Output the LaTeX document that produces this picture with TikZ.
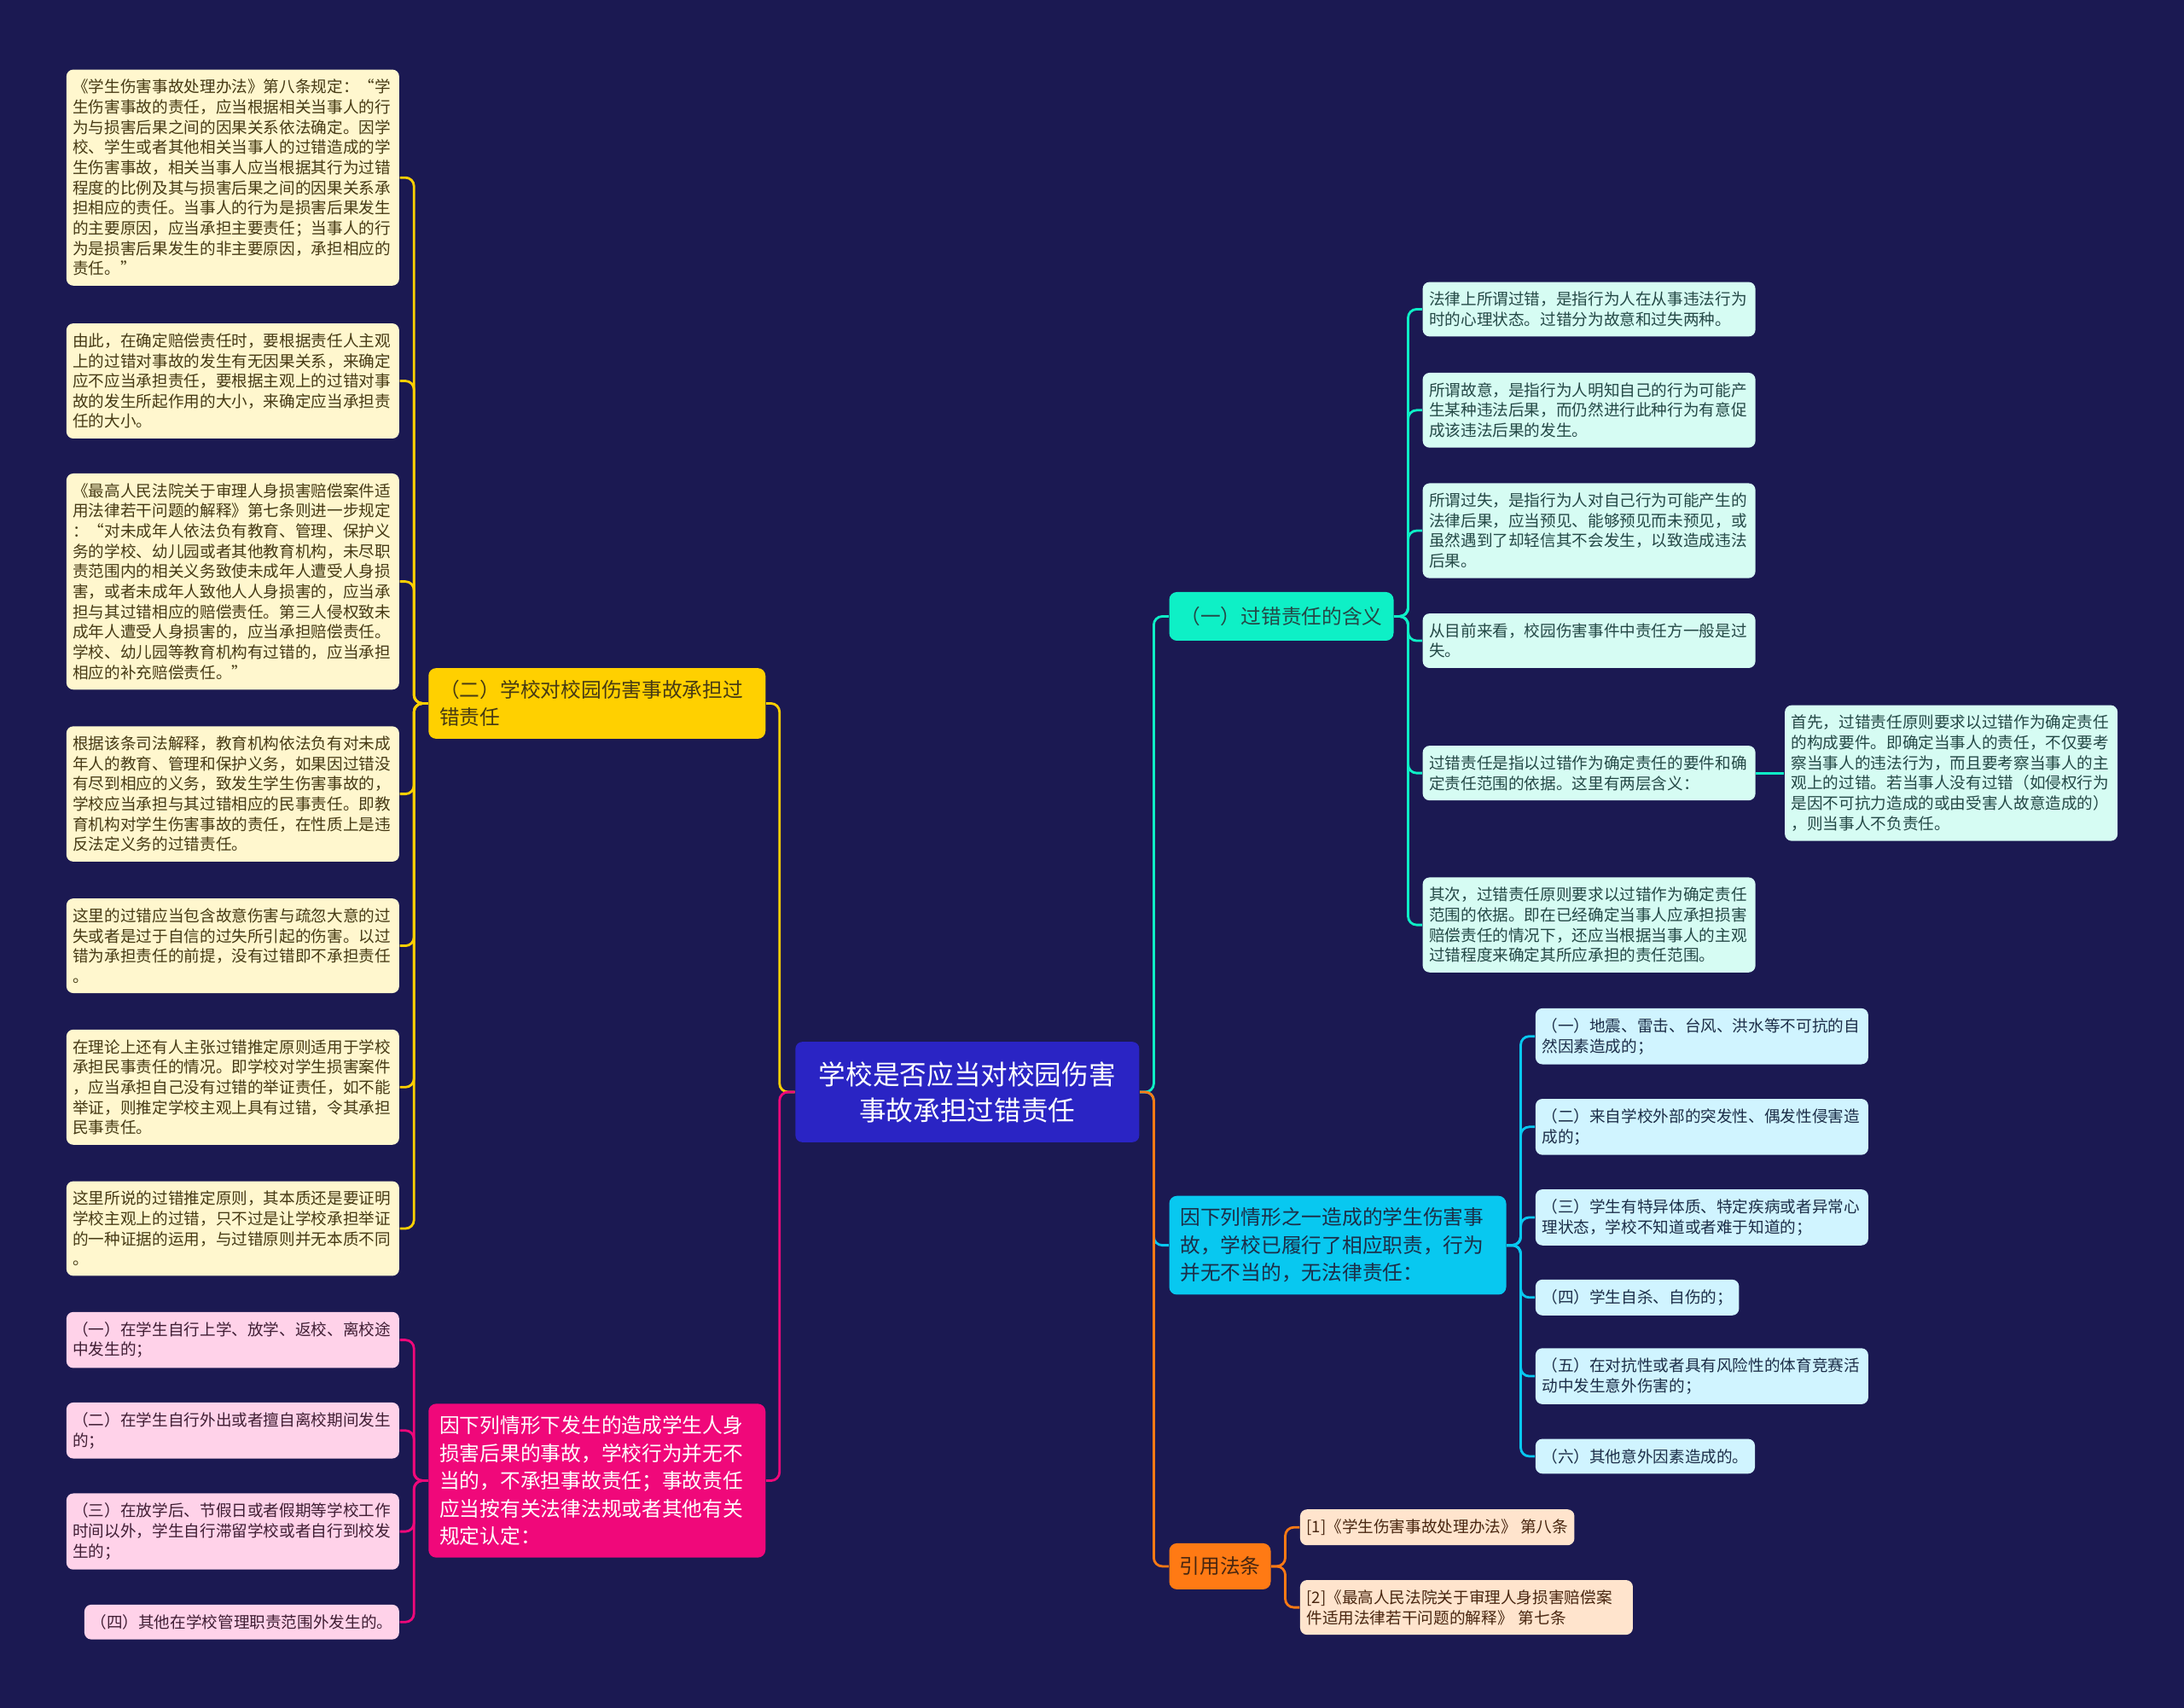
\documentclass[tikz,border=0pt]{standalone}
\usepackage{fontspec}
\newfontfamily\cjk{Noto Sans CJK SC}

\definecolor{fondo}{RGB}{27,25,82}
\definecolor{raizc}{RGB}{42,36,196}
\definecolor{verde}{RGB}{14,240,198}
\definecolor{verdeclaro}{RGB}{214,252,243}
\definecolor{verdetexto}{RGB}{36,72,70}
\definecolor{amarillo}{RGB}{255,208,0}
\definecolor{amarilloclaro}{RGB}{255,247,206}
\definecolor{amarillotexto}{RGB}{70,58,20}
\definecolor{rosa}{RGB}{240,8,122}
\definecolor{rosaclaro}{RGB}{255,210,233}
\definecolor{rosatexto}{RGB}{64,30,52}
\definecolor{azul}{RGB}{8,200,240}
\definecolor{azulclaro}{RGB}{208,244,255}
\definecolor{azultexto}{RGB}{28,46,72}
\definecolor{naranja}{RGB}{255,122,20}
\definecolor{naranjaclaro}{RGB}{255,228,205}
\definecolor{naranjatexto}{RGB}{72,38,16}

\begin{document}
\begin{tikzpicture}[
            x=0.16327mm, y=-0.16327mm,
            hoja/.style  ={rounded corners=0.8mm, inner xsep=0.75mm, inner ysep=1.15mm, align=left,
                           font=\cjk\fontsize{5.3pt}{6.73pt}\selectfont},
            ancha/.style ={hoja, text width=37.5mm},
            rama/.style  ={rounded corners=0.9mm, inner xsep=1.3mm, inner ysep=1.4mm, align=left,
                           text width=36.9mm, font=\cjk\fontsize{6.75pt}{9.26pt}\selectfont},
            corta/.style ={rounded corners=0.9mm, inner sep=0pt, align=center,
                           font=\cjk\fontsize{6.75pt}{9.26pt}\selectfont},
            lin/.style   ={line width=0.8pt, rounded corners=1mm},
            cverde/.style={fill=verdeclaro, text=verdetexto},
            camar/.style ={fill=amarilloclaro, text=amarillotexto},
            crosa/.style ={fill=rosaclaro, text=rosatexto},
            cazul/.style ={fill=azulclaro, text=azultexto},
            cnar/.style  ={fill=naranjaclaro, text=naranjatexto}
        ]
            %-----------------  Fondo  --------------------
            \fill[fondo] (0,0) rectangle (1568,1226);
            \useasboundingbox (0,0) rectangle (1568,1226);

            %-----------------  Nodo central  --------------------
            \node[fill=raizc, text=white, rounded corners=0.8mm, align=center,
                  minimum width=40.3mm, minimum height=11.76mm,
                  font=\cjk\fontsize{9pt}{12pt}\selectfont] (raiz) at (694.5,784)
                 {学校是否应当对校园伤害\\事故承担过错责任};

            %-----------------  Ramas  --------------------
            \node[corta, fill=verde, text=verdetexto, minimum width=26.3mm, minimum height=5.7mm,
                  anchor=west] (sig) at (839,442.5) {（一）过错责任的含义};
            \node[rama, fill=amarillo, text=amarillotexto, anchor=east] (esc) at (550,505)
                 {（二）学校对校园伤害事故承担过\\错责任};
            \node[rama, fill=rosa, text=white, anchor=east] (exc) at (550,1063)
                 {因下列情形下发生的造成学生人身\\损害后果的事故，学校行为并无不\\当的，不承担事故责任；事故责任\\应当按有关法律法规或者其他有关\\规定认定：};
            \node[rama, fill=azul, text=azultexto, anchor=west] (exo) at (839,894)
                 {因下列情形之一造成的学生伤害事\\故，学校已履行了相应职责，行为\\并无不当的，无法律责任：};
            \node[corta, fill=naranja, text=naranjatexto, minimum width=11.9mm, minimum height=5.4mm,
                  anchor=west] (ley) at (839,1124.5) {引用法条};

            %-----------------  Hojas: (一) significado  --------------------
            \node[ancha, cverde, anchor=west] (sig1) at (1021,222)
                 {法律上所谓过错，是指行为人在从事违法行为\\时的心理状态。过错分为故意和过失两种。};
            \node[ancha, cverde, anchor=west] (sig2) at (1021,294.5)
                 {所谓故意，是指行为人明知自己的行为可能产\\生某种违法后果，而仍然进行此种行为有意促\\成该违法后果的发生。};
            \node[ancha, cverde, anchor=west] (sig3) at (1021,381)
                 {所谓过失，是指行为人对自己行为可能产生的\\法律后果，应当预见、能够预见而未预见，或\\虽然遇到了却轻信其不会发生，以致造成违法\\后果。};
            \node[ancha, cverde, anchor=west] (sig4) at (1021,460)
                 {从目前来看，校园伤害事件中责任方一般是过\\失。};
            \node[ancha, cverde, anchor=west] (sig5) at (1021,555)
                 {过错责任是指以过错作为确定责任的要件和确\\定责任范围的依据。这里有两层含义：};
            \node[ancha, cverde, anchor=west] (sig5a) at (1281,555)
                 {首先，过错责任原则要求以过错作为确定责任\\的构成要件。即确定当事人的责任，不仅要考\\察当事人的违法行为，而且要考察当事人的主\\观上的过错。若当事人没有过错（如侵权行为\\是因不可抗力造成的或由受害人故意造成的）\\，则当事人不负责任。};
            \node[ancha, cverde, anchor=west] (sig6) at (1021,664)
                 {其次，过错责任原则要求以过错作为确定责任\\范围的依据。即在已经确定当事人应承担损害\\赔偿责任的情况下，还应当根据当事人的主观\\过错程度来确定其所应承担的责任范围。};

            %-----------------  Hojas: (二) escuela  --------------------
            \node[ancha, camar, anchor=east] (esc1) at (287,127.5)
                 {《学生伤害事故处理办法》第八条规定：“学\\生伤害事故的责任，应当根据相关当事人的行\\为与损害后果之间的因果关系依法确定。因学\\校、学生或者其他相关当事人的过错造成的学\\生伤害事故，相关当事人应当根据其行为过错\\程度的比例及其与损害后果之间的因果关系承\\担相应的责任。当事人的行为是损害后果发生\\的主要原因，应当承担主要责任；当事人的行\\为是损害后果发生的非主要原因，承担相应的\\责任。”};
            \node[ancha, camar, anchor=east] (esc2) at (287,273.5)
                 {由此，在确定赔偿责任时，要根据责任人主观\\上的过错对事故的发生有无因果关系，来确定\\应不应当承担责任，要根据主观上的过错对事\\故的发生所起作用的大小，来确定应当承担责\\任的大小。};
            \node[ancha, camar, anchor=east] (esc3) at (287,417.5)
                 {《最高人民法院关于审理人身损害赔偿案件适\\用法律若干问题的解释》第七条则进一步规定\\：“对未成年人依法负有教育、管理、保护义\\务的学校、幼儿园或者其他教育机构，未尽职\\责范围内的相关义务致使未成年人遭受人身损\\害，或者未成年人致他人人身损害的，应当承\\担与其过错相应的赔偿责任。第三人侵权致未\\成年人遭受人身损害的，应当承担赔偿责任。\\学校、幼儿园等教育机构有过错的，应当承担\\相应的补充赔偿责任。”};
            \node[ancha, camar, anchor=east] (esc4) at (287,570)
                 {根据该条司法解释，教育机构依法负有对未成\\年人的教育、管理和保护义务，如果因过错没\\有尽到相应的义务，致发生学生伤害事故的，\\学校应当承担与其过错相应的民事责任。即教\\育机构对学生伤害事故的责任，在性质上是违\\反法定义务的过错责任。};
            \node[ancha, camar, anchor=east] (esc5) at (287,679)
                 {这里的过错应当包含故意伤害与疏忽大意的过\\失或者是过于自信的过失所引起的伤害。以过\\错为承担责任的前提，没有过错即不承担责任\\。};
            \node[ancha, camar, anchor=east] (esc6) at (287,780.5)
                 {在理论上还有人主张过错推定原则适用于学校\\承担民事责任的情况。即学校对学生损害案件\\，应当承担自己没有过错的举证责任，如不能\\举证，则推定学校主观上具有过错，令其承担\\民事责任。};
            \node[ancha, camar, anchor=east] (esc7) at (287,882)
                 {这里所说的过错推定原则，其本质还是要证明\\学校主观上的过错，只不过是让学校承担举证\\的一种证据的运用，与过错原则并无本质不同\\。};

            %-----------------  Hojas: no asume responsabilidad  --------------------
            \node[ancha, crosa, anchor=east] (exc1) at (287,962)
                 {（一）在学生自行上学、放学、返校、离校途\\中发生的；};
            \node[ancha, crosa, anchor=east] (exc2) at (287,1027)
                 {（二）在学生自行外出或者擅自离校期间发生\\的；};
            \node[ancha, crosa, anchor=east] (exc3) at (287,1099.5)
                 {（三）在放学后、节假日或者假期等学校工作\\时间以外，学生自行滞留学校或者自行到校发\\生的；};
            \node[hoja, crosa, anchor=east] (exc4) at (287,1164.5)
                 {（四）其他在学校管理职责范围外发生的。};

            %-----------------  Hojas: sin responsabilidad legal  --------------------
            \node[ancha, cazul, anchor=west] (exo1) at (1102,744)
                 {（一）地震、雷击、台风、洪水等不可抗的自\\然因素造成的；};
            \node[ancha, cazul, anchor=west] (exo2) at (1102,809)
                 {（二）来自学校外部的突发性、偶发性侵害造\\成的；};
            \node[ancha, cazul, anchor=west] (exo3) at (1102,874)
                 {（三）学生有特异体质、特定疾病或者异常心\\理状态，学校不知道或者难于知道的；};
            \node[hoja, cazul, anchor=west] (exo4) at (1102,931.5)
                 {（四）学生自杀、自伤的；};
            \node[ancha, cazul, anchor=west] (exo5) at (1102,988)
                 {（五）在对抗性或者具有风险性的体育竞赛活\\动中发生意外伤害的；};
            \node[hoja, cazul, anchor=west] (exo6) at (1102,1045.5)
                 {（六）其他意外因素造成的。};

            %-----------------  Hojas: leyes  --------------------
            \node[hoja, cnar, anchor=west] (ley1) at (933,1096.5)
                 {[1]《学生伤害事故处理办法》 第八条};
            \node[ancha, cnar, anchor=west] (ley2) at (933,1154)
                 {[2]《最高人民法院关于审理人身损害赔偿案\\件适用法律若干问题的解释》 第七条};

            %-----------------  Conectores  --------------------
            \draw[lin, verde]    (raiz.east) -- ++(10,0) |- (sig.west);
            \draw[lin, azul]     (raiz.east) -- ++(10,0) |- (exo.west);
            \draw[lin, naranja]  (raiz.east) -- ++(10,0) |- (ley.west);
            \draw[lin, amarillo] (raiz.west) -- ++(-11,0) |- (esc.east);
            \draw[lin, rosa]     (raiz.west) -- ++(-11,0) |- (exc.east);

            % (一)
            \draw[lin, verde] (sig.east) -- ++(10,0) |- (sig1.west);
            \draw[lin, verde] (sig.east) -- ++(10,0) |- (sig2.west);
            \draw[lin, verde] (sig.east) -- ++(10,0) |- (sig3.west);
            \draw[lin, verde] (sig.east) -- ++(10,0) |- (sig4.west);
            \draw[lin, verde] (sig.east) -- ++(10,0) |- (sig5.west);
            \draw[lin, verde] (sig.east) -- ++(10,0) |- (sig6.west);
            \draw[lin, verde] (sig5.east) -- (sig5a.west);

            % (二)
            \draw[lin, amarillo] (esc.west) -- ++(-10,0) |- (esc1.east);
            \draw[lin, amarillo] (esc.west) -- ++(-10,0) |- (esc2.east);
            \draw[lin, amarillo] (esc.west) -- ++(-10,0) |- (esc3.east);
            \draw[lin, amarillo] (esc.west) -- ++(-10,0) |- (esc4.east);
            \draw[lin, amarillo] (esc.west) -- ++(-10,0) |- (esc5.east);
            \draw[lin, amarillo] (esc.west) -- ++(-10,0) |- (esc6.east);
            \draw[lin, amarillo] (esc.west) -- ++(-10,0) |- (esc7.east);

            % Rosa
            \draw[lin, rosa] (exc.west) -- ++(-10,0) |- (exc1.east);
            \draw[lin, rosa] (exc.west) -- ++(-10,0) |- (exc2.east);
            \draw[lin, rosa] (exc.west) -- ++(-10,0) |- (exc3.east);
            \draw[lin, rosa] (exc.west) -- ++(-10,0) |- (exc4.east);

            % Azul
            \draw[lin, azul] (exo.east) -- ++(10,0) |- (exo1.west);
            \draw[lin, azul] (exo.east) -- ++(10,0) |- (exo2.west);
            \draw[lin, azul] (exo.east) -- ++(10,0) |- (exo3.west);
            \draw[lin, azul] (exo.east) -- ++(10,0) |- (exo4.west);
            \draw[lin, azul] (exo.east) -- ++(10,0) |- (exo5.west);
            \draw[lin, azul] (exo.east) -- ++(10,0) |- (exo6.west);

            % Naranja
            \draw[lin, naranja] (ley.east) -- ++(10,0) |- (ley1.west);
            \draw[lin, naranja] (ley.east) -- ++(10,0) |- (ley2.west);
        \end{tikzpicture}
\end{document}
